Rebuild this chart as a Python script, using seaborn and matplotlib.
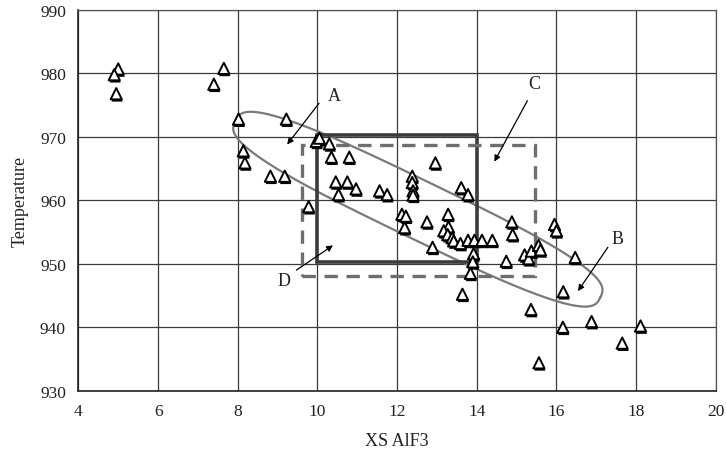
import numpy as np
import pandas as pd
import matplotlib
matplotlib.use("Agg")
import matplotlib.pyplot as plt
import matplotlib.patheffects as pe
from matplotlib.patches import Rectangle
import seaborn as sns

# Excess AlF3 vs. bath temperature measurements
xs_alf3 = [5.0, 4.9, 4.95, 7.65, 7.4, 8.02, 8.14, 8.18, 8.82, 9.18,
           9.22, 9.78, 9.97, 10.05, 10.3, 10.35, 10.8, 10.46, 10.75, 10.97,
           10.53, 11.56, 11.75, 12.38, 12.38, 12.4, 12.4, 12.12, 12.22, 12.19,
           12.75, 12.96, 12.89, 13.28, 13.29, 13.17, 13.27, 13.38, 13.42, 13.59,
           13.78, 13.94, 14.13, 14.39, 13.61, 13.78, 13.92, 13.9, 13.84, 13.64,
           14.74, 14.88, 14.9, 15.2, 15.3, 15.37, 15.55, 15.6, 15.95, 16.0,
           16.47, 16.17, 15.36, 16.16, 16.88, 18.11, 17.65, 15.56]
temperature = [980.7, 979.8, 976.8, 980.8, 978.3, 972.8, 967.8, 965.9, 963.8, 963.8,
               972.8, 959.0, 969.3, 969.8, 968.9, 966.8, 966.8, 962.9, 962.9, 961.8,
               960.9, 961.5, 960.9, 963.8, 962.8, 961.5, 960.8, 957.8, 957.5, 955.7,
               956.6, 965.9, 952.6, 957.8, 955.8, 955.2, 954.6, 954.1, 953.6, 953.2,
               953.7, 953.7, 953.7, 953.7, 962.0, 960.9, 951.6, 950.3, 948.5, 945.2,
               950.4, 956.6, 954.6, 951.4, 950.8, 952.0, 952.9, 952.2, 956.2, 955.2,
               951.0, 945.6, 942.8, 940.0, 940.9, 940.2, 937.5, 934.4]

x_ticks = [4, 6, 8, 10, 12, 14, 16, 18, 20]
y_ticks = [930, 940, 950, 960, 970, 980, 990]

# Operating windows (data units)
window_solid = dict(x0=10.0, x1=14.0, y0=950.3, y1=970.3)
window_dashed = dict(x0=9.6, x1=15.45, y0=948.15, y1=968.7)

# Elongated region enclosing the main cluster (rounded oblong outline)
region_center = (12.52, 958.6)
region_major = (4.58, -13.9)
region_minor = (-0.315, -4.11)
region_exponent = 3.0

# Labels: text position, arrow tail, arrow head
callouts = {
    "A": ((10.42, 976.5), (10.04, 975.3), (9.24, 968.8)),
    "C": ((15.44, 978.4), (15.27, 975.7), (14.44, 966.1)),
    "B": ((17.54, 954.0), (17.29, 952.6), (16.54, 945.7)),
    "D": ((9.17, 947.4), (9.47, 949.0), (10.39, 952.9)),
}

df = pd.DataFrame({"XS AlF3": xs_alf3, "Temperature": temperature})

sns.set_theme(style="white")
serif = ["Liberation Serif", "DejaVu Serif"]
plt.rcParams["font.family"] = serif

fig = plt.figure(figsize=(7.26, 4.56), dpi=100)
ax = fig.add_axes([0.108, 0.141, 0.878, 0.835])

ax.set_xlim(4, 20)
ax.set_ylim(930, 990)
ax.set_xticks(x_ticks)
ax.set_yticks(y_ticks)
ax.grid(True, color="#3a3a3a", linewidth=0.9)
ax.set_axisbelow(True)
for side in ["left", "bottom"]:
    ax.spines[side].set_color("#222222")
    ax.spines[side].set_linewidth(1.2)
for side in ["top", "right"]:
    ax.spines[side].set_color("#555555")
    ax.spines[side].set_linewidth(0.9)
ax.tick_params(axis="both", direction="out", length=5, width=1, color="#222222",
               labelsize=12.5, labelcolor="#222222", pad=4)

# Region outline as a superellipse
t = np.linspace(0, 2 * np.pi, 600)
p = 2.0 / region_exponent
cu = np.sign(np.cos(t)) * np.abs(np.cos(t)) ** p
sv = np.sign(np.sin(t)) * np.abs(np.sin(t)) ** p
ex = region_center[0] + region_major[0] * cu + region_minor[0] * sv
ey = region_center[1] + region_major[1] * cu + region_minor[1] * sv
ax.plot(ex, ey, color="#7a7a7a", linewidth=1.6, zorder=2)

ax.add_patch(Rectangle((window_solid["x0"], window_solid["y0"]),
                       window_solid["x1"] - window_solid["x0"],
                       window_solid["y1"] - window_solid["y0"],
                       fill=False, edgecolor="#3c3c3c", linewidth=2.6, zorder=2))
ax.add_patch(Rectangle((window_dashed["x0"], window_dashed["y0"]),
                       window_dashed["x1"] - window_dashed["x0"],
                       window_dashed["y1"] - window_dashed["y0"],
                       fill=False, edgecolor="#6e6e6e", linewidth=2.4,
                       linestyle=(0, (4, 2.6)), zorder=2))

sns.scatterplot(data=df, x="XS AlF3", y="Temperature", marker="^", s=66,
                facecolor="white", edgecolor="black", linewidth=1.4,
                ax=ax, zorder=3, legend=False)
for coll in ax.collections:
    coll.set_path_effects([
        pe.SimplePatchShadow(offset=(0.6, -1.6), shadow_rgbFace="black", alpha=1.0),
        pe.Normal(),
    ])

for label, (txt, tail, head) in callouts.items():
    ax.annotate("", xy=head, xytext=tail,
                arrowprops=dict(arrowstyle="-|>", color="black", lw=0.9,
                                mutation_scale=9, shrinkA=0, shrinkB=0),
                zorder=4)
    ax.text(txt[0], txt[1], label, ha="center", va="center", fontsize=13,
            color="#222222", zorder=4)

ax.set_xlabel("XS AlF3", fontsize=13, color="#222222", labelpad=9)
ax.set_ylabel("Temperature", fontsize=13, color="#222222", labelpad=8)

fig.savefig("out.png", dpi=100)
